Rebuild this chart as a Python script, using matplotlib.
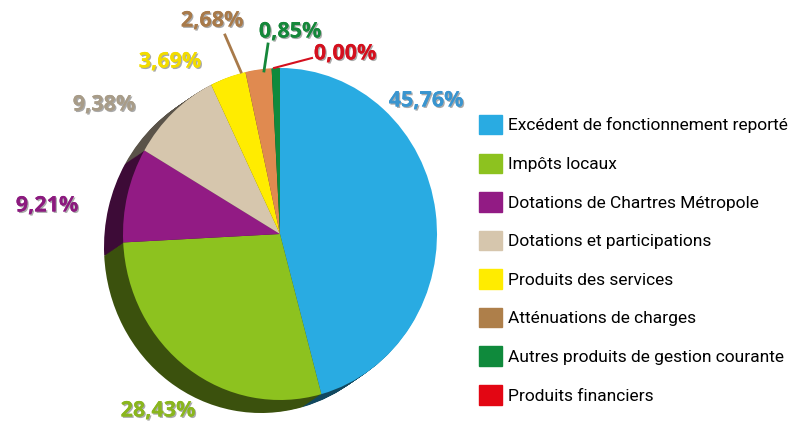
import matplotlib.pyplot as plt
import matplotlib.patheffects as pe
import numpy as np
from matplotlib.colors import to_rgb

# data
labels = ["Excédent de fonctionnement reporté", "Impôts locaux",
          "Dotations de Chartres Métropole", "Dotations et participations",
          "Produits des services", "Atténuations de charges",
          "Autres produits de gestion courante", "Produits financiers"]
values = [45.76, 28.43, 9.21, 9.38, 3.69, 2.68, 0.85, 0.00]
pct_text = ["45,76%", "28,43%", "9,21%", "9,38%", "3,69%", "2,68%", "0,85%", "0,00%"]
colors = ["#29abe2", "#8dc21f", "#921b84", "#d6c6ad", "#ffec00", "#e08a50", "#0f8a3c", "#e30613"]
legend_colors = ["#29abe2", "#8dc21f", "#921b84", "#d6c6ad", "#ffec00", "#ae7f4a", "#0f8a3c", "#e30613"]
text_colors = ["#3a95cf", "#8ab61e", "#8c1a7f", "#a89c88", "#f2dc00", "#a87a4a", "#15873a", "#d4101e"]

W, H = 797, 430
fig = plt.figure(figsize=(W / 100, H / 100), dpi=100)

# pie axes: ellipse centre (280,234) px, radii 157 x 166 px
cx, cy, rx, ry = 280, 234, 157, 166
m = 1.35
ax = fig.add_axes([(cx - rx * m) / W, (H - cy - ry * m) / H, 2 * rx * m / W, 2 * ry * m / H])

# dark "side" of the pie, stacked copies shifted down-left
dark = [tuple(c * 0.42 for c in to_rgb(col)) for col in colors]
dx, dy = -19 / rx, -13 / ry
nsteps = 18
for k in range(nsteps, 0, -1):
    t = k / nsteps
    ax.pie(values, colors=dark, startangle=90, counterclock=False,
           center=(dx * t, dy * t), radius=1)
wedges, _ = ax.pie(values, colors=colors, startangle=90, counterclock=False,
                   center=(0, 0), radius=1)
ax.set_aspect("auto")
ax.set_xlim(-m, m)
ax.set_ylim(-m, m)
ax.axis("off")

# overlay in pixel coordinates for labels
ov = fig.add_axes([0, 0, 1, 1])
ov.set_xlim(0, W)
ov.set_ylim(H, 0)
ov.axis("off")

lab_pos = [(426, 101), (158, 411), (47, 206), (104, 105), (170, 62), (212, 21), (290, 32), (345, 54)]
shadow = [pe.withSimplePatchShadow(offset=(1, -1), shadow_rgbFace="#444444", alpha=0.45), pe.Normal()]
for (x, y), txt, col in zip(lab_pos, pct_text, text_colors):
    ov.text(x, y, txt, color=col, fontsize=15.5, fontweight="bold", family="Open Sans",
            ha="center", va="center", path_effects=shadow)

# leader lines
ov.plot([225, 241], [35, 72], color="#a87a4a", lw=2)
ov.plot([268, 264], [44, 71], color="#15873a", lw=2)
ov.plot([312, 274], [58, 68], color="#d4101e", lw=1.5)

# legend
handles = [plt.Rectangle((0, 0), 1, 1, color=c) for c in legend_colors]
fig.legend(handles, labels, loc="upper left", bbox_to_anchor=(472 / W, 1 - 108 / H),
           frameon=False, handlelength=1.35, handleheight=1.35, handletextpad=0.35,
           labelspacing=1.1, borderaxespad=0,
           prop={"family": ["Roboto", "DejaVu Sans"], "size": 12.5})

fig.savefig("out.png", dpi=100)
